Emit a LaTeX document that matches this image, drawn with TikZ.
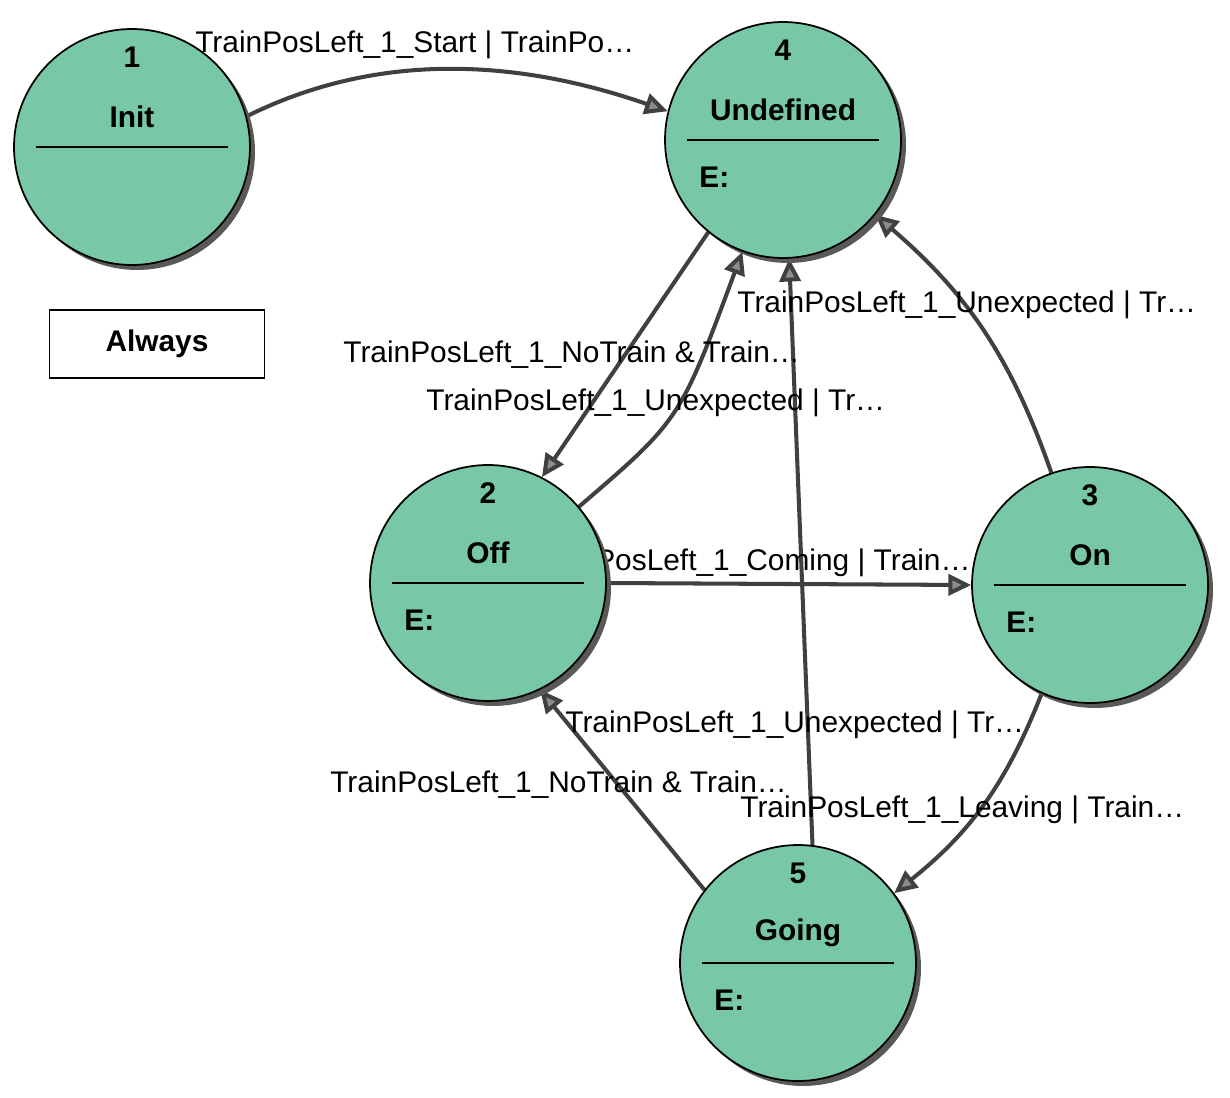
\documentclass[tikz,border=0pt]{standalone}
\usepackage{fontspec}
\setmainfont{Liberation Sans}
\usetikzlibrary{arrows.meta,backgrounds}

\tikzset{
  state/.style={circle,draw=black,line width=1pt,fill=stgreen,minimum size=4.72cm,inner sep=0pt},
  stshadow/.style={circle,fill=black!65,minimum size=4.72cm,inner sep=0pt},
  trans/.style={draw=black!75,line width=2.3pt,-{Triangle[length=13pt,width=12pt,fill=black!45]}},
  tlabel/.style={anchor=west,inner sep=0pt,font=\fontsize{17}{20}\selectfont},
  stext/.style={font=\bfseries\fontsize{17}{20}\selectfont,inner sep=0pt}
}
\definecolor{stgreen}{RGB}{120,200,168}

% state: name, x, y, number, title, entry label
\newcommand{\mkstate}[6]{
  \node[stshadow] at (#2+5,#3+5) {};
  \node[state] (#1) at (#2,#3) {};
  \node[stext] (#1num) at (#2,#3-90) {#4};
  \node[stext] (#1name) at (#2,#3-30) {#5};
  \draw[line width=0.8pt] (#2-96,#3) -- (#2+96,#3);
  \node[stext,anchor=west] (#1entry) at (#2-84,#3+37) {#6};
}

\begin{document}
\begin{tikzpicture}[x=0.02cm,y=-0.02cm]
\useasboundingbox (0,0) rectangle (1230,1098);

\mkstate{init}{132}{147}{1}{Init}{}
\mkstate{undef}{783}{140}{4}{Undefined}{E:}
\mkstate{off}{488}{583}{2}{Off}{E:}
\mkstate{on}{1090}{585}{3}{On}{E:}
\mkstate{going}{798}{963}{5}{Going}{E:}

\node[draw,line width=1pt,minimum width=4.3cm,minimum height=1.36cm,stext] (always) at (157,344) {Always};

\begin{scope}[on background layer]
\draw[trans] (init.15) .. controls (380,50) and (520,60) .. (undef.166);
\draw[trans] (undef.231) -- (off.63);
\draw[trans] (off.40) .. controls (680,420) .. (undef.250);
\draw[trans] (off.east) -- (on.west);
\draw[trans] (on.109) to[bend right=15] (undef.321);
\draw[trans] (going.83) -- (undef.273);
\draw[trans] (on.246) to[bend left=15] (going.36);
\draw[trans] (going.142) -- (off.296);

\node[tlabel] (lstart) at (195,45) {TrainPosLeft\_1\_Start | TrainPo…};
\node[tlabel] (lonund) at (737,305) {TrainPosLeft\_1\_Unexpected | Tr…};
\node[tlabel] (lundoff) at (343,355) {TrainPosLeft\_1\_NoTrain \& Train…};
\node[tlabel] (loffund) at (426,403) {TrainPosLeft\_1\_Unexpected | Tr…};
\node[tlabel] (loffon) at (528,563) {TrainPosLeft\_1\_Coming | Train…};
\node[tlabel] (lgoingund) at (565,725) {TrainPosLeft\_1\_Unexpected | Tr…};
\node[tlabel] (lgoingoff) at (330,785) {TrainPosLeft\_1\_NoTrain \& Train…};
\node[tlabel] (longoing) at (740,810) {TrainPosLeft\_1\_Leaving | Train…};
\end{scope}

\end{tikzpicture}
\end{document}
